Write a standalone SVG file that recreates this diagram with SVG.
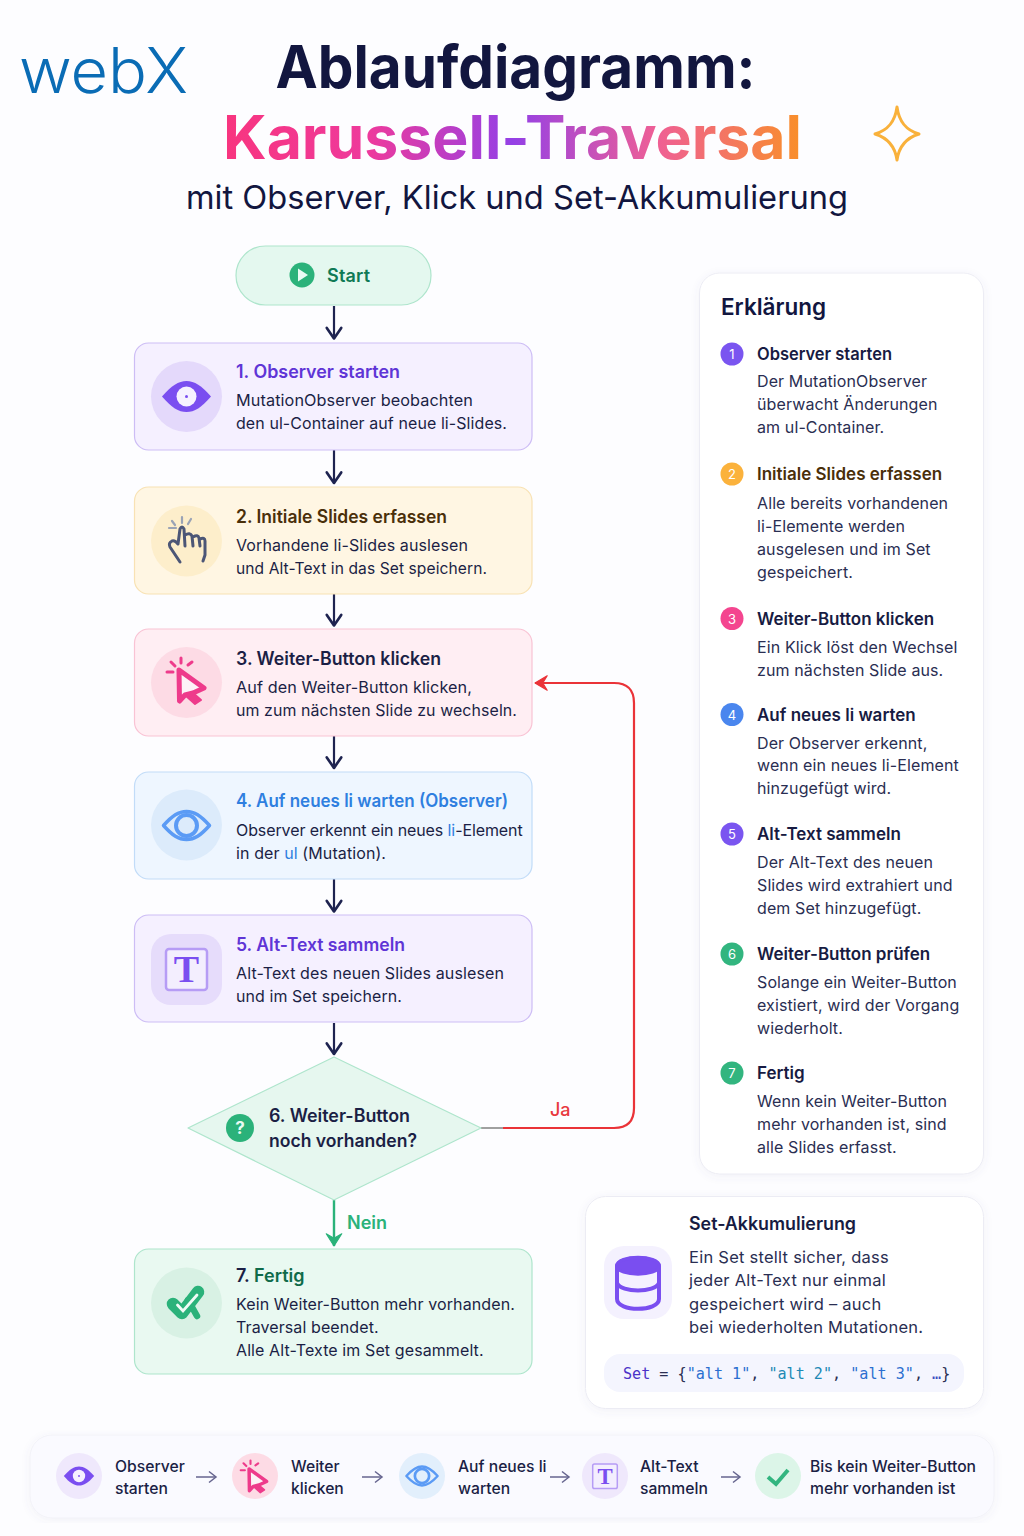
<svg xmlns="http://www.w3.org/2000/svg" width="1024" height="1536" viewBox="0 0 1024 1536">
<style>
text{font-family:"Inter","Liberation Sans",sans-serif;fill:#1b1f45}
.t{font-size:18px;font-weight:600}
.b{font-size:16px;letter-spacing:.1px}
.lt{font-size:17px;font-weight:600;fill:#171b42}
.ld{font-size:16px;fill:#2a2e52;letter-spacing:.11px}
.sd{font-size:16.500px;fill:#2a2e52;letter-spacing:.25px}
.n{font-size:13px;fill:#fff;text-anchor:middle}
.s{font-size:15.700px;font-weight:500}
.card{stroke-width:1.200}
.conn{fill:none;stroke:#1e2350;stroke-width:2.200}
</style>
<defs>
<linearGradient id="tg" gradientUnits="userSpaceOnUse" x1="224" y1="0" x2="801" y2="0">
<stop offset="0" stop-color="#f8357f"/><stop offset=".25" stop-color="#ee3a9c"/><stop offset=".5" stop-color="#9440e6"/><stop offset=".75" stop-color="#ef5f95"/><stop offset="1" stop-color="#f98f2a"/>
</linearGradient>
<filter id="sh" x="-5%" y="-5%" width="110%" height="110%"><feDropShadow dx="0" dy="2" stdDeviation="4" flood-color="#5a5a90" flood-opacity=".07"/></filter>
<marker id="ah" markerUnits="userSpaceOnUse" markerWidth="20" markerHeight="20" viewBox="-12 -9 14 18" refX="0" refY="0" orient="auto"><path d="M-10-6.500L-.5 0-10 6.500" fill="none" stroke="#1e2350" stroke-width="2.400" stroke-linecap="round" stroke-linejoin="round"/></marker>
<marker id="ag" markerUnits="userSpaceOnUse" markerWidth="20" markerHeight="20" viewBox="-12 -9 14 18" refX="0" refY="0" orient="auto"><path d="M0 0L-11-7-7 0-11 7Z" fill="#2bb27a" stroke="#2bb27a" stroke-linejoin="round"/></marker>
<marker id="ar" markerUnits="userSpaceOnUse" markerWidth="20" markerHeight="20" viewBox="-12 -9 14 18" refX="0" refY="0" orient="auto"><path d="M0 0L-11-6.500-7 0-11 6.500Z" fill="#ea3338" stroke="#ea3338" stroke-linejoin="round"/></marker>
<marker id="as" markerUnits="userSpaceOnUse" markerWidth="14" markerHeight="14" viewBox="-9 -7 10 14" refX="0" refY="0" orient="auto"><path d="M-7-5.500L0 0-7 5.500" fill="none" stroke="#66658f" stroke-width="1.500"/></marker>
<g id="eye1"><path d="M-24.500 0C-15-11-8-15.500 0-15.500S15-11 24.500 0C15 11 8 15.500 0 15.500S-15 11-24.500 0Z" fill="#7a4ef0"/><circle r="10" fill="#f6f1ff"/><circle r="1.500" fill="#7a4ef0"/></g>
<g id="eye4"><path d="M-23 0C-14-10-8-14 0-14S14-10 23 0C14 10 8 14 0 14S-14 10-23 0Z" fill="none" stroke="#5b9bf5" stroke-width="3.500" stroke-linejoin="round"/><circle r="10.500" fill="none" stroke="#5b9bf5" stroke-width="4"/></g>
<g id="cur"><path d="M-1 12L7 10 15 17 9 21Z" fill="#ee3b8b" stroke="#ee3b8b" stroke-width="2" stroke-linejoin="round"/><path d="M-7-13L18 5 7 10-1 12-6.500 18Z" fill="#fdf3f7" stroke="#ee3b8b" stroke-width="5" stroke-linejoin="round"/><path d="M-5-25V-20M-15-21L-11-17M6-21L2-18M-19-11H-13" fill="none" stroke="#ee3b8b" stroke-width="3" stroke-linecap="round"/></g>
<g id="tic"><rect x="-20.500" y="-20" width="41" height="41" rx="3" fill="#f3eefe" stroke="#b69cf5" stroke-width="2.500"/><text x="0" y="12.500" text-anchor="middle" style="font-family:'Liberation Serif',serif;font-size:38px;font-weight:700;fill:#7a4ef0">T</text></g>
</defs>
<rect width="1024" height="1536" fill="#fdfdff"/>

<g id="header">
<text x="19" y="92.500" style="font-size:63px;font-weight:350;fill:#0a6cb5" textLength="169" lengthAdjust="spacingAndGlyphs">webX</text>
<text x="275.500" y="87.500" style="font-size:59px;font-weight:700;fill:#12163f" textLength="480" lengthAdjust="spacingAndGlyphs">Ablaufdiagramm:</text>
<text x="223" y="158.500" style="font-size:60px;font-weight:700;fill:url(#tg)" textLength="579" lengthAdjust="spacingAndGlyphs">Karussell-Traversal</text>
<text x="186" y="209" style="font-size:33px;font-weight:400;fill:#12163f" textLength="662" lengthAdjust="spacingAndGlyphs">mit Observer, Klick und Set-Akkumulierung</text>
<path d="M897 107C899 122 906 130 919 134C906 138 899 146 897 160C895 146 888 138 875 134C888 130 895 122 897 107Z" fill="none" stroke="#f9b13b" stroke-width="3" stroke-linejoin="round"/>
</g>

<g id="connectors">
<path class="conn" d="M334 306V339" marker-end="url(#ah)"/>
<path class="conn" d="M334 450V483.500" marker-end="url(#ah)"/>
<path class="conn" d="M334 594V626" marker-end="url(#ah)"/>
<path class="conn" d="M334 736V768.500" marker-end="url(#ah)"/>
<path class="conn" d="M334 879V912" marker-end="url(#ah)"/>
<path class="conn" d="M334 1023V1054.500" marker-end="url(#ah)"/>
<path d="M334 1200V1246" fill="none" stroke="#2bb27a" stroke-width="2.400" marker-end="url(#ag)"/>
<path d="M481 1128H503" fill="none" stroke="#a0a0a0" stroke-width="2"/>
<path d="M503 1128H614Q634 1128 634 1108V703Q634 683 614 683H535" fill="none" stroke="#ea3338" stroke-width="2.200" marker-end="url(#ar)"/>
<text x="550" y="1116" style="font-size:18px;font-weight:500;fill:#e8383d">Ja</text>
<text x="347" y="1229" style="font-size:18px;font-weight:600;fill:#2bb27a">Nein</text>
</g>

<g id="start"><rect x="236" y="246" width="195" height="59" rx="29.500" fill="#e4f8ef" stroke="#aee5cc" stroke-width="1.200"/>
<circle cx="302" cy="275" r="12.500" fill="#2bb27a"/><path d="M298 268.500L308 275 298 281.500Z" fill="#e9fbf3"/>
<text x="327" y="282" style="font-size:18px;font-weight:600;fill:#0f7a55" textLength="43">Start</text></g>

<g id="step1"><rect class="card" x="134.500" y="343" width="397.500" height="107" rx="14" fill="#f5f0ff" stroke="#cdbdf5"/>
<circle cx="186.500" cy="396.500" r="35.500" fill="#e4d9fb"/><use href="#eye1" x="186.500" y="396.500"/>
<text class="t" x="236" y="378" style="fill:#5f35d6" textLength="164" lengthAdjust="spacingAndGlyphs">1. Observer starten</text>
<text class="b" x="236" y="406" textLength="237" lengthAdjust="spacingAndGlyphs">MutationObserver beobachten</text>
<text class="b" x="236" y="429" textLength="271" lengthAdjust="spacingAndGlyphs">den ul-Container auf neue li-Slides.</text></g>

<g id="step2"><rect class="card" x="134.500" y="487" width="397.500" height="107" rx="14" fill="#fff6e3" stroke="#f8e2b4"/>
<circle cx="186.500" cy="541" r="35.500" fill="#fdeecb"/>
<path d="M180 562L170 547Q168 543 172 541Q175 540 178 544L180 529Q182 525 184 529L185 546M185 535Q190 532 192 536L193 546M193 537Q198 534 199 538L200 546M200 539Q205 537 205 541L205 555L203 561" fill="none" stroke="#4c5676" stroke-width="3" stroke-linecap="round" stroke-linejoin="round"/>
<path d="M182 517V523M172 521L175 525M191 519L188 524M169 528H176" fill="none" stroke="#9aa3b5" stroke-width="2.200" stroke-linecap="round"/>
<text class="t" x="236" y="523" style="fill:#4a2f0a" textLength="211" lengthAdjust="spacingAndGlyphs">2. Initiale Slides erfassen</text>
<text class="b" x="236" y="551" textLength="232" lengthAdjust="spacingAndGlyphs">Vorhandene li-Slides auslesen</text>
<text class="b" x="236" y="574" textLength="251" lengthAdjust="spacingAndGlyphs">und Alt-Text in das Set speichern.</text></g>

<g id="step3"><rect class="card" x="134.500" y="629" width="397.500" height="107" rx="14" fill="#ffeef3" stroke="#f9c3d4"/>
<circle cx="186.500" cy="682.500" r="35.500" fill="#fddbe5"/><use href="#cur" x="186" y="683"/>
<text class="t" x="236" y="664.500" textLength="205" lengthAdjust="spacingAndGlyphs">3. Weiter-Button klicken</text>
<text class="b" x="236" y="692.500" textLength="236" lengthAdjust="spacingAndGlyphs">Auf den Weiter-Button klicken,</text>
<text class="b" x="236" y="715.500" textLength="281" lengthAdjust="spacingAndGlyphs">um zum nächsten Slide zu wechseln.</text></g>

<g id="step4"><rect class="card" x="134.500" y="772" width="397.500" height="107" rx="14" fill="#eef6ff" stroke="#c2dcf8"/>
<circle cx="186.500" cy="825" r="35.500" fill="#dcebfb"/><use href="#eye4" x="186.500" y="825.500"/>
<text class="t" x="236" y="806.500" style="fill:#2f7fe0" textLength="272" lengthAdjust="spacingAndGlyphs">4. Auf neues li warten (Observer)</text>
<text class="b" x="236" y="835.500" style="letter-spacing:-.1px">Observer erkennt ein neues <tspan style="fill:#2f7fe0">li</tspan>-Element</text>
<text class="b" x="236" y="858.500">in der <tspan style="fill:#2f7fe0">ul</tspan> (Mutation).</text></g>

<g id="step5"><rect class="card" x="134.500" y="915" width="397.500" height="107" rx="14" fill="#f5f0ff" stroke="#cdbdf5"/>
<rect x="151" y="934" width="71" height="71" rx="20" fill="#e6dcfb"/><use href="#tic" x="186.500" y="969"/>
<text class="t" x="236" y="950.500" style="fill:#5f35d6" textLength="169" lengthAdjust="spacingAndGlyphs">5. Alt-Text sammeln</text>
<text class="b" x="236" y="979" textLength="268" lengthAdjust="spacingAndGlyphs">Alt-Text des neuen Slides auslesen</text>
<text class="b" x="236" y="1002" textLength="166" lengthAdjust="spacingAndGlyphs">und im Set speichern.</text></g>

<g id="step6"><path d="M334 1057L481 1128 334 1200 188 1128Z" fill="#e6f7ef" stroke="#aee5cc" stroke-width="1.200" stroke-linejoin="round"/>
<circle cx="240" cy="1128" r="14" fill="#2bb27a"/><text x="240" y="1134" text-anchor="middle" style="font-size:17px;font-weight:700;fill:#e9fbf3">?</text>
<text class="t" x="269" y="1122" textLength="141" lengthAdjust="spacingAndGlyphs">6. Weiter-Button</text>
<text class="t" x="269" y="1147" textLength="148" lengthAdjust="spacingAndGlyphs">noch vorhanden?</text></g>

<g id="step7"><rect class="card" x="134.500" y="1249" width="397.500" height="125" rx="14" fill="#e9f9f1" stroke="#aee5cc"/>
<circle cx="186.500" cy="1303" r="35.500" fill="#d8f1e4"/>
<path d="M173 1304L182 1313L198 1292" fill="none" stroke="#2bb27a" stroke-width="12.500" stroke-linecap="round" stroke-linejoin="round"/>
<path d="M188 1300L197 1316" fill="none" stroke="#2bb27a" stroke-width="6.500" stroke-linecap="round"/>
<path d="M177.500 1305L183 1311L197 1295" fill="none" stroke="#f0fbf6" stroke-width="2.800" stroke-linecap="round"/>
<text class="t" x="236" y="1282">7. <tspan style="fill:#0f6b4a">Fertig</tspan></text>
<text class="b" x="236" y="1310" textLength="279" lengthAdjust="spacingAndGlyphs">Kein Weiter-Button mehr vorhanden.</text>
<text class="b" x="236" y="1333">Traversal beendet.</text>
<text class="b" x="236" y="1356">Alle Alt-Texte im Set gesammelt.</text></g>

<g id="legend"><rect x="699.500" y="273" width="284" height="901" rx="20" fill="#fff" stroke="#ececf4" filter="url(#sh)"/>
<text x="721" y="314.500" style="font-size:22.500px;font-weight:600;fill:#12163f">Erklärung</text>
<circle cx="732" cy="354" r="11.500" fill="#7a55f0"/><text class="n" x="732" y="359">1</text>
<text class="lt" x="757" y="360" textLength="135" lengthAdjust="spacingAndGlyphs">Observer starten</text>
<text class="ld" x="757" y="387">Der MutationObserver</text><text class="ld" x="757" y="410">überwacht Änderungen</text><text class="ld" x="757" y="433">am ul-Container.</text>
<circle cx="732" cy="474" r="11.500" fill="#fbb23c"/><text class="n" x="732" y="479">2</text>
<text class="lt" x="757" y="480" style="fill:#4a2f0a">Initiale Slides erfassen</text>
<text class="ld" x="757" y="509">Alle bereits vorhandenen</text><text class="ld" x="757" y="532">li-Elemente werden</text><text class="ld" x="757" y="555">ausgelesen und im Set</text><text class="ld" x="757" y="578">gespeichert.</text>
<circle cx="732" cy="618.500" r="11.500" fill="#f4458f"/><text class="n" x="732" y="623.500">3</text>
<text class="lt" x="757" y="625">Weiter-Button klicken</text>
<text class="ld" x="757" y="653">Ein Klick löst den Wechsel</text><text class="ld" x="757" y="676">zum nächsten Slide aus.</text>
<circle cx="732" cy="714.500" r="11.500" fill="#4a86ee"/><text class="n" x="732" y="719.500">4</text>
<text class="lt" x="757" y="721">Auf neues li warten</text>
<text class="ld" x="757" y="749">Der Observer erkennt,</text><text class="ld" x="757" y="771">wenn ein neues li-Element</text><text class="ld" x="757" y="794">hinzugefügt wird.</text>
<circle cx="732" cy="834" r="11.500" fill="#7a55f0"/><text class="n" x="732" y="839">5</text>
<text class="lt" x="757" y="840">Alt-Text sammeln</text>
<text class="ld" x="757" y="868">Der Alt-Text des neuen</text><text class="ld" x="757" y="891">Slides wird extrahiert und</text><text class="ld" x="757" y="914">dem Set hinzugefügt.</text>
<circle cx="732" cy="954" r="11.500" fill="#32b57f"/><text class="n" x="732" y="959">6</text>
<text class="lt" x="757" y="960">Weiter-Button prüfen</text>
<text class="ld" x="757" y="988">Solange ein Weiter-Button</text><text class="ld" x="757" y="1011">existiert, wird der Vorgang</text><text class="ld" x="757" y="1034">wiederholt.</text>
<circle cx="732" cy="1073" r="11.500" fill="#32b57f"/><text class="n" x="732" y="1078">7</text>
<text class="lt" x="757" y="1079">Fertig</text>
<text class="ld" x="757" y="1107">Wenn kein Weiter-Button</text><text class="ld" x="757" y="1130">mehr vorhanden ist, sind</text><text class="ld" x="757" y="1153">alle Slides erfasst.</text></g>

<g id="set"><rect x="585.500" y="1196.500" width="398" height="212" rx="20" fill="#fff" stroke="#ececf4" filter="url(#sh)"/>
<rect x="604" y="1246" width="68" height="73" rx="20" fill="#f4f1fe"/>
<path d="M617 1266C617 1255 659 1255 659 1266V1299C659 1312 617 1312 617 1299Z" fill="#f4f0ff" stroke="#7a4ef0" stroke-width="4"/>
<path d="M617 1266C617 1277 659 1277 659 1266C659 1255 617 1255 617 1266Z" fill="#7a4ef0" stroke="#7a4ef0" stroke-width="3"/>
<path d="M617 1283C621 1293 655 1293 659 1283" fill="none" stroke="#7a4ef0" stroke-width="4"/>
<text x="689" y="1230" style="font-size:18px;font-weight:600;fill:#171b42" textLength="167" lengthAdjust="spacingAndGlyphs">Set-Akkumulierung</text>
<text class="sd" x="689" y="1263">Ein Set stellt sicher, dass</text><text class="sd" x="689" y="1286">jeder Alt-Text nur einmal</text><text class="sd" x="689" y="1310">gespeichert wird – auch</text><text class="sd" x="689" y="1333">bei wiederholten Mutationen.</text>
<rect x="604" y="1354" width="360" height="38" rx="16" fill="#f4f5fe"/>
<text x="623" y="1378.500" style="font-family:'DejaVu Sans Mono','Liberation Mono',monospace;font-size:15.100px;fill:#2a2e52" xml:space="preserve"><tspan style="fill:#4b33c8">Set</tspan> = {<tspan style="fill:#2b6fd0">"alt 1"</tspan>, <tspan style="fill:#2089b5">"alt 2"</tspan>, <tspan style="fill:#2b6fd0">"alt 3"</tspan>, <tspan style="fill:#3a4fc0">…</tspan>}</text></g>

<g id="summary"><rect x="30" y="1435" width="964" height="83" rx="22" fill="#fafaff" stroke="#f2f2f8" filter="url(#sh)"/>
<circle cx="79" cy="1476" r="23" fill="#efe8fc"/><use href="#eye1" transform="translate(79 1476) scale(.62)"/>
<text class="s" x="115" y="1472">Observer</text><text class="s" x="115" y="1494">starten</text>
<path d="M196 1477H216" fill="none" stroke="#66658f" stroke-width="1.500" marker-end="url(#as)"/>
<circle cx="255" cy="1476" r="23" fill="#fddbe5"/><use href="#cur" transform="translate(254 1478) scale(.7)"/>
<text class="s" x="291" y="1472">Weiter</text><text class="s" x="291" y="1494">klicken</text>
<path d="M362 1477H382" fill="none" stroke="#66658f" stroke-width="1.500" marker-end="url(#as)"/>
<circle cx="422" cy="1476" r="23" fill="#e2effc"/><use href="#eye4" transform="translate(422 1476) scale(.68)"/>
<text class="s" x="458" y="1472">Auf neues li</text><text class="s" x="458" y="1494">warten</text>
<path d="M550 1477H569" fill="none" stroke="#66658f" stroke-width="1.500" marker-end="url(#as)"/>
<circle cx="605" cy="1476" r="23" fill="#efe8fc"/><use href="#tic" transform="translate(605 1476) scale(.6)"/>
<text class="s" x="640" y="1472">Alt-Text</text><text class="s" x="640" y="1494">sammeln</text>
<path d="M721 1477H740" fill="none" stroke="#66658f" stroke-width="1.500" marker-end="url(#as)"/>
<circle cx="778" cy="1476" r="23" fill="#dcf5e8"/><path d="M768 1477L776 1484 788 1470" fill="none" stroke="#32b57f" stroke-width="4"/>
<text class="s" x="810" y="1472">Bis kein Weiter-Button</text><text class="s" x="810" y="1494">mehr vorhanden ist</text></g>
</svg>
